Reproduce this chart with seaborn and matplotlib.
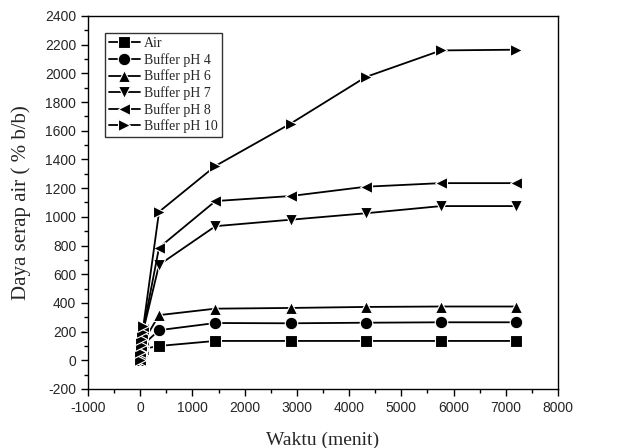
import matplotlib
matplotlib.use("Agg")
import matplotlib.pyplot as plt
import numpy as np
import pandas as pd
import seaborn as sb
from matplotlib.ticker import MultipleLocator

# time points (menit)
waktu = [0, 5, 10, 15, 30, 60, 360, 1440, 2880, 4320, 5760, 7200]

labels = ["Air", "Buffer pH 4", "Buffer pH 6", "Buffer pH 7", "Buffer pH 8", "Buffer pH 10"]
air = [0, 20, 35, 50, 65, 80, 100, 135, 135, 135, 135, 135]
ph4 = [0, 30, 50, 70, 90, 110, 210, 260, 258, 262, 265, 265]
ph6 = [0, 35, 60, 85, 105, 130, 315, 360, 365, 372, 375, 375]
ph7 = [0, 50, 90, 130, 170, 210, 665, 935, 980, 1025, 1075, 1075]
ph8 = [0, 55, 100, 140, 180, 220, 785, 1110, 1145, 1210, 1235, 1235]
ph10 = [0, 60, 110, 150, 200, 240, 1035, 1355, 1650, 1975, 2160, 2165]
markers = ["s", "o", "^", "v", "<", ">"]

series = [air, ph4, ph6, ph7, ph8, ph10]
df = pd.concat([pd.DataFrame({"Waktu": waktu, "Daya": s, "Sampel": lab})
                for s, lab in zip(series, labels)])

sb.set_style("ticks")
plt.rcParams["font.family"] = ["Liberation Sans", "DejaVu Sans"]
plt.rcParams["axes.unicode_minus"] = False

fig = plt.figure(figsize=(6.18, 4.48), dpi=100)
ax = fig.add_axes([0.1424, 0.1317, 0.7606, 0.8326])

for lab, m in zip(labels, markers):
    sub = df[df["Sampel"] == lab]
    sb.lineplot(data=sub, x="Waktu", y="Daya", ax=ax, color="black", marker=m,
                markersize=9, markeredgecolor="white", markeredgewidth=0.8,
                linewidth=1.3, label=lab)

ax.set_xlim(-1000, 8000)
ax.set_ylim(-200, 2400)
ax.xaxis.set_major_locator(MultipleLocator(1000))
ax.xaxis.set_minor_locator(MultipleLocator(500))
ax.yaxis.set_major_locator(MultipleLocator(200))
ax.yaxis.set_minor_locator(MultipleLocator(100))
ax.tick_params(which="major", length=5, width=1, labelsize=10, color="black")
ax.tick_params(which="minor", length=3, width=1, color="black")
for sp in ax.spines.values():
    sp.set_color("black")
    sp.set_linewidth(1)

ax.set_xlabel("Waktu (menit)", family="Liberation Serif", fontsize=14, labelpad=12)
ax.set_ylabel("Daya serap air ( % b/b)", family="Liberation Serif", fontsize=15, labelpad=10)

leg = ax.legend(loc="upper left", bbox_to_anchor=(0.036, 0.954), frameon=True, fancybox=False,
                prop={"family": "Liberation Serif", "size": 10}, handlelength=2.2,
                labelspacing=0.2, borderpad=0.3, handletextpad=0.3, borderaxespad=0)
leg.get_frame().set_edgecolor("black")
leg.get_frame().set_linewidth(1)

fig.savefig("out.png", dpi=100)
